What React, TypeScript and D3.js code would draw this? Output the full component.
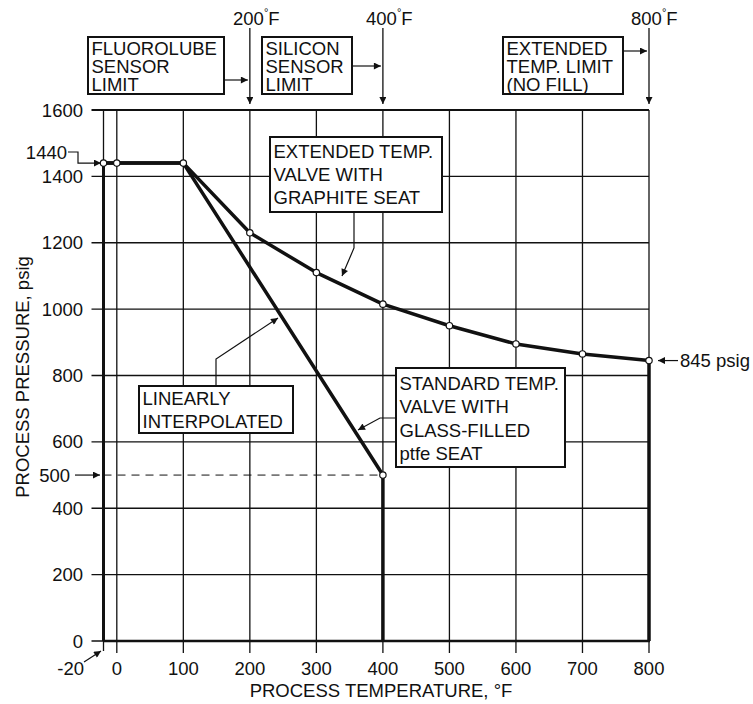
import React from 'react';
import * as d3 from 'd3';

// values
const tempTicks = [0, 100, 200, 300, 400, 500, 600, 700, 800];
const pressureTicks = [0, 200, 400, 600, 800, 1000, 1200, 1400, 1600];
const extendedTemp = [-20, 0, 100, 200, 300, 400, 500, 600, 700, 800];
const extendedPressure = [1440, 1440, 1440, 1230, 1110, 1015, 950, 895, 865, 845];
const standardTemp = [-20, 0, 100, 400];
const standardPressure = [1440, 1440, 1440, 500];
const limitTemps = [200, 400, 800];

const W = 753;
const H = 704;
const FONT = '"Liberation Sans", Arial, Helvetica, sans-serif';

const App = () => {
  const x = d3.scaleLinear().domain([-20, 800]).range([103.5, 649]);
  const y = d3.scaleLinear().domain([0, 1600]).range([641, 110]);

  const curve = d3
    .line<[number, number]>()
    .x((d) => x(d[0]))
    .y((d) => y(d[1]));

  const extPath = curve(extendedTemp.map((t, i) => [t, extendedPressure[i]]));
  const stdPath = curve(standardTemp.map((t, i) => [t, standardPressure[i]]));

  const txt = { fontFamily: FONT, fontSize: 18.5, fill: '#111' };

  const box = (
    bx: number,
    by: number,
    bw: number,
    bh: number,
    lines: string[],
    first: number,
    step: number
  ) => (
    <g>
      <rect x={bx} y={by} width={bw} height={bh} fill="white" stroke="#111" strokeWidth={2} />
      {lines.map((l, i) => (
        <text key={i} x={bx + 3.5} y={by + first + i * step} {...txt}>
          {l}
        </text>
      ))}
    </g>
  );

  const deg = (tx: number, val: number) => (
    <text x={tx} y={24.5} {...txt}>
      {val}
      <tspan dy={-9} fontSize={11}>°</tspan>
      <tspan dy={9}>F</tspan>
    </text>
  );

  return (
    <div style={{ position: 'fixed', left: 0, top: 0 }}>
      <svg width={W} height={H} style={{ background: 'white', display: 'block' }}>
        <defs>
          <marker id="arr" viewBox="0 0 10 10" refX="10" refY="5" markerWidth="11" markerHeight="7" orient="auto" markerUnits="userSpaceOnUse">
            <path d="M0,0 L10,5 L0,10 z" fill="#111" />
          </marker>
        </defs>

        {/* grid */}
        {tempTicks.map((t) => (
          <line key={'v' + t} x1={x(t)} x2={x(t)} y1={y(1600)} y2={y(0) + 12} stroke="#111" strokeWidth={1.3} />
        ))}
        <line x1={x(-20)} x2={x(-20)} y1={y(1600)} y2={y(0) + 10} stroke="#111" strokeWidth={1.3} />
        {pressureTicks.map((p) => (
          <line key={'h' + p} x1={x(-20) - 12} x2={x(800)} y1={y(p)} y2={y(p)} stroke="#111" strokeWidth={p === 1600 ? 2.2 : 1.3} />
        ))}
        <line x1={x(-20)} x2={x(800) + 1} y1={y(0)} y2={y(0)} stroke="#111" strokeWidth={2.6} />

        {/* y tick labels */}
        {pressureTicks.map((p) => (
          <text key={'yl' + p} x={83} y={y(p) + 6.5} textAnchor="end" {...txt}>
            {p}
          </text>
        ))}
        {/* x tick labels */}
        {tempTicks.map((t) => (
          <text key={'xl' + t} x={x(t)} y={674.5} textAnchor="middle" {...txt}>
            {t}
          </text>
        ))}
        <text x={84} y={674.5} textAnchor="end" {...txt}>-20</text>
        <line x1={84} y1={662} x2={101} y2={651} stroke="#111" strokeWidth={1.2} markerEnd="url(#arr)" />

        {/* axis titles */}
        <text x={381} y={697} textAnchor="middle" {...txt}>PROCESS TEMPERATURE, °F</text>
        <text transform="translate(29,377) rotate(-90)" textAnchor="middle" {...txt}>PROCESS PRESSURE, psig</text>

        {/* 500 psig reference */}
        <line x1={x(-20)} x2={x(400)} y1={y(500)} y2={y(500)} stroke="#111" strokeWidth={1} strokeDasharray="8,6" />
        <text x={70} y={y(500) + 6.5} textAnchor="end" {...txt}>500</text>
        <line x1={75} x2={100} y1={y(500)} y2={y(500)} stroke="#111" strokeWidth={1.2} markerEnd="url(#arr)" />

        {/* 1440 label */}
        <text x={67} y={158.5} textAnchor="end" {...txt}>1440</text>
        <path d={`M68,152 H78 V${y(1440)} H101`} fill="none" stroke="#111" strokeWidth={1.2} markerEnd="url(#arr)" />

        {/* curves */}
        <line x1={x(-20)} x2={x(-20)} y1={y(1440)} y2={y(0)} stroke="#111" strokeWidth={3} />
        <line x1={x(400)} x2={x(400)} y1={y(500)} y2={y(0)} stroke="#111" strokeWidth={3.5} />
        <line x1={x(800)} x2={x(800)} y1={y(845)} y2={y(0)} stroke="#111" strokeWidth={3.5} />
        <path d={stdPath ?? ''} fill="none" stroke="#111" strokeWidth={3.5} strokeLinejoin="round" />
        <path d={extPath ?? ''} fill="none" stroke="#111" strokeWidth={3.5} strokeLinejoin="round" />
        {extendedTemp.map((t, i) => (
          <circle key={'ce' + t} cx={x(t)} cy={y(extendedPressure[i])} r={3.2} fill="white" stroke="#111" strokeWidth={1.2} />
        ))}
        <circle cx={x(400)} cy={y(500)} r={3.2} fill="white" stroke="#111" strokeWidth={1.2} />

        {/* temperature limits at top */}
        {limitTemps.map((t) => (
          <line key={'lim' + t} x1={x(t)} x2={x(t)} y1={28} y2={y(1600) - 6} stroke="#111" strokeWidth={1.3} markerEnd="url(#arr)" />
        ))}
        {deg(233, 200)}
        {deg(366, 400)}
        {deg(631, 800)}

        {box(88, 37, 136, 57, ['FLUOROLUBE', 'SENSOR', 'LIMIT'], 17.5, 18)}
        <line x1={224} x2={x(200) - 2} y1={80} y2={80} stroke="#111" strokeWidth={1.2} markerEnd="url(#arr)" />
        {box(262, 37, 90, 57, ['SILICON', 'SENSOR', 'LIMIT'], 17.5, 18)}
        <line x1={352} x2={x(400) - 2} y1={66} y2={66} stroke="#111" strokeWidth={1.2} markerEnd="url(#arr)" />
        {box(503, 37, 120, 57, ['EXTENDED', 'TEMP. LIMIT', '(NO FILL)'], 17.5, 18)}
        <line x1={623} x2={x(800) - 2} y1={51} y2={51} stroke="#111" strokeWidth={1.2} markerEnd="url(#arr)" />

        {/* curve annotations */}
        {box(270, 137, 172, 75, ['EXTENDED TEMP.', 'VALVE WITH', 'GRAPHITE SEAT'], 21, 23)}
        <path d="M354,212 V248 L342,276" fill="none" stroke="#111" strokeWidth={1.2} markerEnd="url(#arr)" />

        {box(139, 386, 154, 47, ['LINEARLY', 'INTERPOLATED'], 19, 23)}
        <path d="M216,386 V359 L278,318" fill="none" stroke="#111" strokeWidth={1.2} markerEnd="url(#arr)" />

        {box(396, 368, 169, 99, ['STANDARD TEMP.', 'VALVE WITH', 'GLASS-FILLED', 'ptfe SEAT'], 22, 23.3)}
        <path d="M396,418 H380 L358,430" fill="none" stroke="#111" strokeWidth={1.2} markerEnd="url(#arr)" />

        <text x={680} y={y(845) + 6.5} {...txt}>845 psig</text>
        <line x1={678} x2={658} y1={y(845)} y2={y(845)} stroke="#111" strokeWidth={1.2} markerEnd="url(#arr)" />
      </svg>
    </div>
  );
};

export default App;
